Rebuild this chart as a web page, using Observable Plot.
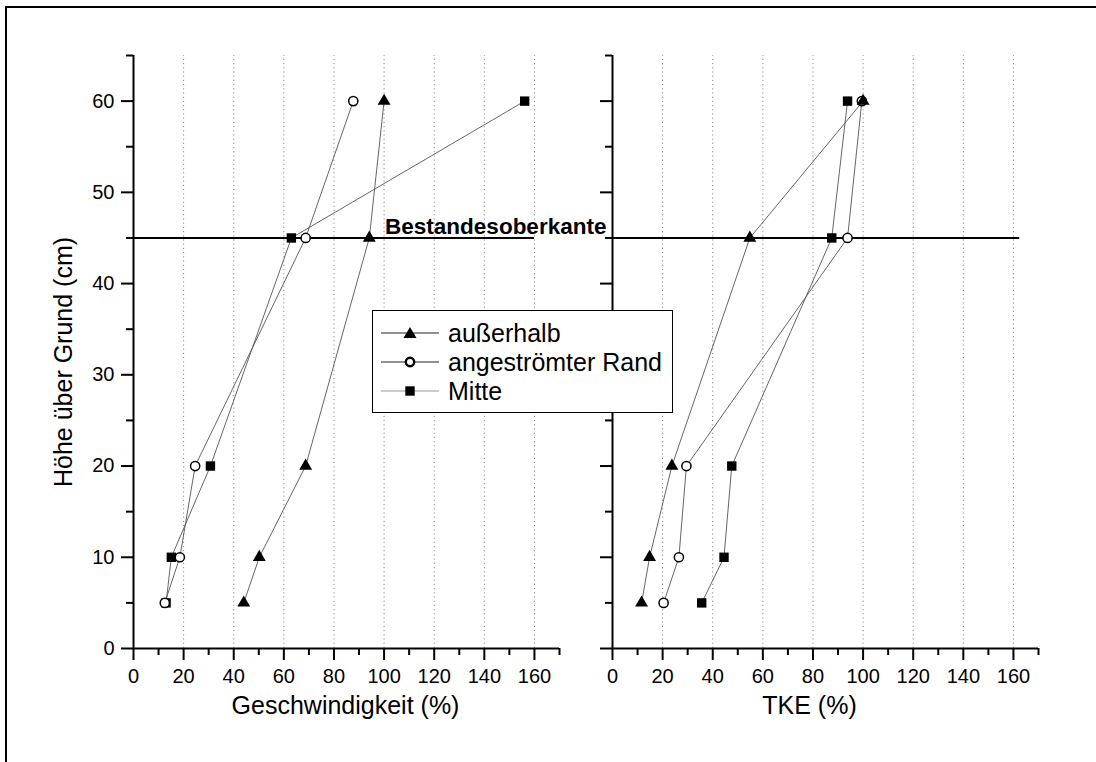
<!DOCTYPE html>
<html>
<head>
<meta charset="utf-8">
<script src="https://cdn.jsdelivr.net/npm/d3@7"></script>
<script src="https://cdn.jsdelivr.net/npm/@observablehq/plot@0.6"></script>
<style>
  html, body { margin: 0; padding: 0; background: #fff; overflow: hidden; }
  #wrap { position: relative; width: 1096px; height: 762px; overflow: hidden;
          font-family: Arial, "Liberation Sans", sans-serif; background: #fff; }
  #frame { position: absolute; left: 5px; top: 6px; width: 1200px; height: 900px; border: 2px solid #000; }
  .panel { position: absolute; left: 0; top: 0; }
  #legend { position: absolute; left: 372px; top: 310px; width: 301px; height: 103px;
            border: 1.5px solid #000; background: #fff; box-sizing: border-box; }
  .lrow { position: absolute; left: 0; height: 28px; display: flex; align-items: center; }
  .lrow svg { margin-left: 7px; }
  .lrow span { font-size: 25px; margin-left: 8px; color: #000; white-space: nowrap; }
</style>
</head>
<body>
<div id="wrap"><div id="frame"></div></div>
<script>
// ---- data ----
const heights = [5, 10, 20, 45, 60];
const seriesNames = ["außerhalb", "angeströmter Rand", "Mitte"];
const speedAussen = [44.0, 50.2, 68.7, 94.1, 100.0];
const speedRand   = [12.5, 18.5, 24.6, 68.7, 87.7];
const speedMitte  = [13.0, 15.1, 30.7, 63.0, 156.1];
const tkeAussen   = [11.6, 14.8, 23.7, 54.8, 100.0];
const tkeRand     = [20.4, 26.5, 29.5, 93.8, 99.5];
const tkeMitte    = [35.6, 44.5, 47.6, 87.5, 93.8];
const xMajorTicks = [0, 20, 40, 60, 80, 100, 120, 140, 160];
const xMinorTicks = [10, 30, 50, 70, 90, 110, 130, 150, 170];
const yMajorTicks = [0, 10, 20, 30, 40, 50, 60];
const yMinorTicks = [5, 15, 25, 35, 45, 55, 65];
const gridTicks = [20, 40, 60, 80, 100, 120, 140, 160];
const xDomain = [0, 170];
const yDomain = [0, 65];
const canopyHeight = 45;
const canopyLabel = "Bestandesoberkante";
const canopyLabelStart = 100;
const canopyLineEnds = [160, 162.5];
const xTitles = ["Geschwindigkeit (%)", "TKE (%)"];
const yTitle = "Höhe über Grund (cm)";

const FONT = "Arial, 'Liberation Sans', sans-serif";

function rowsFor(values) {
  const rows = [];
  seriesNames.forEach((s, i) => heights.forEach((h, j) => rows.push({series: s, h, v: values[i][j]})));
  return rows;
}

function panel(values, opts) {
  const rows = rowsFor(values);
  const marks = [
    Plot.ruleX(gridTicks, {y1: yDomain[0], y2: yDomain[1], stroke: "#8a8a8a", strokeWidth: 1, strokeDasharray: "1.2,3"}),
    Plot.ruleY([canopyHeight], {x1: 0, x2: opts.lineEnd, stroke: "#000", strokeWidth: 2}),
    Plot.line(rows, {x: "v", y: "h", z: "series", sort: "h", stroke: "#555", strokeWidth: 0.9}),
    Plot.dot(rows.filter(d => d.series === seriesNames[2]), {x: "v", y: "h", symbol: "square", r: 5.3, fill: "#000", stroke: null}),
    Plot.dot(rows.filter(d => d.series === seriesNames[1]), {x: "v", y: "h", symbol: "circle", r: 4.6, fill: "#fff", stroke: "#000", strokeWidth: 1.5}),
    Plot.dot(rows.filter(d => d.series === seriesNames[0]), {x: "v", y: "h", symbol: "triangle", r: 4.8, fill: "#000", stroke: null}),
    Plot.ruleX([0], {y1: yDomain[0], y2: yDomain[1], stroke: "#000", strokeWidth: 2}),
    Plot.ruleY([0], {x1: xDomain[0], x2: xDomain[1], stroke: "#000", strokeWidth: 2}),
    Plot.axisX(xMajorTicks, {tickSize: 12, tickPadding: 8, fontSize: "20px", label: null, strokeWidth: 2, fill: "#000"}),
    Plot.axisX(xMinorTicks, {tickSize: 7, tickFormat: () => "", label: null, strokeWidth: 2}),
    Plot.axisY(yMajorTicks, {tickSize: 12, tickPadding: 7, fontSize: "20px", label: null, strokeWidth: 2, fill: "#000",
                             tickFormat: opts.yLabels ? (d => String(d)) : (() => "")}),
    Plot.axisY(yMinorTicks, {tickSize: 7, tickFormat: () => "", label: null, strokeWidth: 2}),
    Plot.text([opts.title], {frameAnchor: "bottom", dx: opts.titleDx, dy: 65, fontSize: 25, fill: "#000"})
  ];
  if (opts.extra) marks.push(...opts.extra);
  const svg = Plot.plot({
    width: 1096, height: 762,
    marginLeft: opts.marginLeft, marginRight: opts.marginRight, marginTop: 55, marginBottom: 114,
    x: {domain: xDomain},
    y: {domain: yDomain},
    style: {background: "transparent", fontFamily: FONT, fontSize: "20px", overflow: "visible", color: "#000"},
    marks
  });
  svg.classList.add("panel");
  return svg;
}

const wrap = document.getElementById("wrap");

const left = panel([speedAussen, speedRand, speedMitte], {
  marginLeft: 133, marginRight: 1096 - 559, lineEnd: canopyLineEnds[0],
  yLabels: true, title: xTitles[0], titleDx: -1,
  extra: [
    Plot.text([canopyLabel], {x: canopyLabelStart, y: canopyHeight, textAnchor: "start", lineAnchor: "bottom",
                              dx: 1, dy: -4, fontSize: 22.5, fontWeight: "bold", fill: "#000"}),
    Plot.text([yTitle], {frameAnchor: "left", textAnchor: "middle", rotate: -90, dx: -70, dy: 10, fontSize: 25, fill: "#000"})
  ]
});
const right = panel([tkeAussen, tkeRand, tkeMitte], {
  marginLeft: 612, marginRight: 1096 - 1038, lineEnd: canopyLineEnds[1],
  yLabels: false, title: xTitles[1], titleDx: -16
});
wrap.appendChild(left);
wrap.appendChild(right);

// ---- legend ----
const legend = document.createElement("div");
legend.id = "legend";
const symbolsSvg = [
  `<polygon points="30,4 23.5,15 36.5,15" fill="#000"/>`,
  `<circle cx="30" cy="10" r="4.2" fill="#fff" stroke="#000" stroke-width="2.4"/>`,
  `<rect x="25.3" y="5.3" width="9.4" height="9.4" fill="#000"/>`
];
const lineColors = ["#222", "#222", "#999"];
const rowTops = [8, 37, 66];
seriesNames.forEach((name, i) => {
  const row = document.createElement("div");
  row.className = "lrow";
  row.style.top = rowTops[i] + "px";
  row.innerHTML = `<svg width="60" height="20" viewBox="0 0 60 20">
      <line x1="1" y1="10" x2="59" y2="10" stroke="${lineColors[i]}" stroke-width="1.2"/>
      ${symbolsSvg[i]}
    </svg><span>${name}</span>`;
  legend.appendChild(row);
});
wrap.appendChild(legend);
</script>
</body>
</html>
